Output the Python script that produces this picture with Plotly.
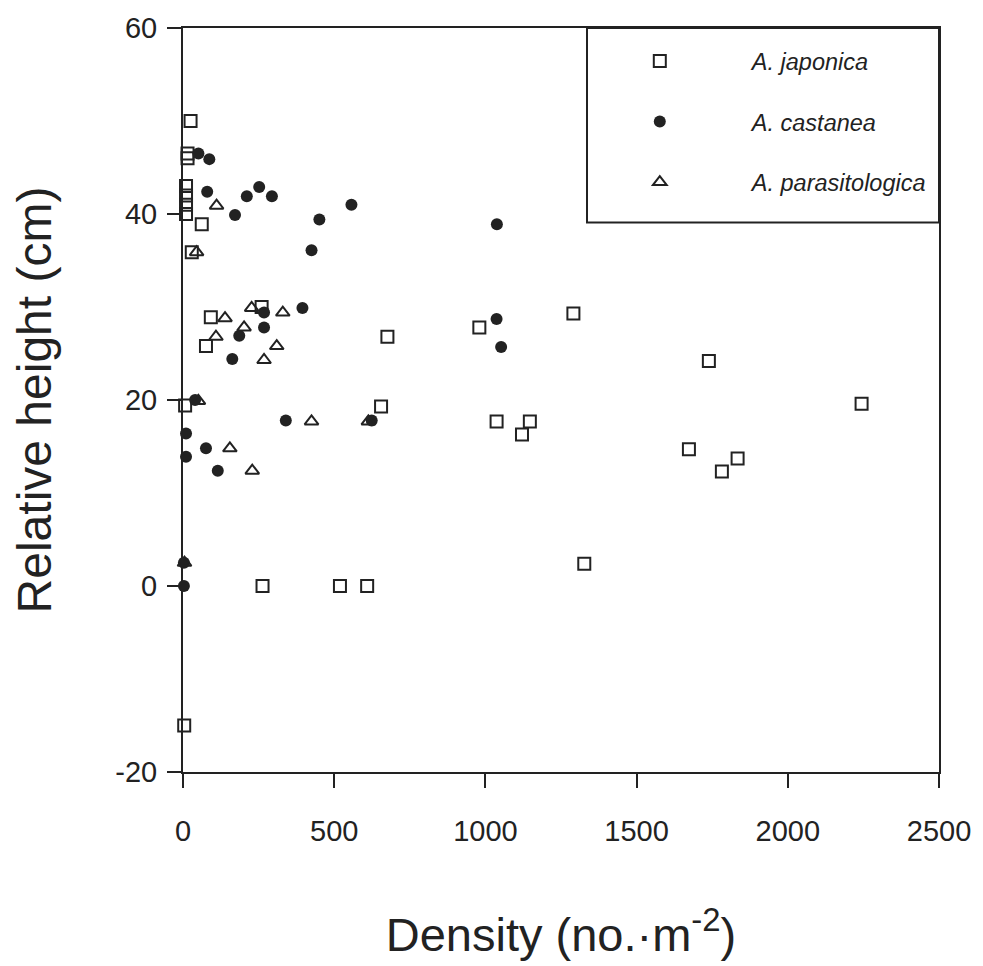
import plotly.graph_objects as go

# A. japonica (open squares)
jap_x = [25, 15, 15, 10, 10, 10, 10, 62, 29, 92, 76, 260, 676, 980, 1291, 1739,
         1037, 1147, 1121, 1673, 1834, 1782, 1327, 655, 7, 263, 519, 609, 4, 2244]
jap_y = [50, 46.5, 46, 43, 42, 41, 40, 38.9, 35.9, 28.9, 25.8, 30, 26.8, 27.8, 29.3, 24.2,
         17.7, 17.7, 16.3, 14.7, 13.7, 12.3, 2.4, 19.3, 19.4, 0, 0, 0, -15, 19.6]

# A. castanea (filled circles)
cas_x = [51, 87, 80, 211, 252, 294, 172, 451, 557, 425, 395, 268, 268, 186, 163,
         340, 624, 10, 76, 10, 115, 40, 1037, 1052, 1038, 3, 3]
cas_y = [46.5, 45.9, 42.4, 41.9, 42.9, 41.9, 39.9, 39.4, 41, 36.1, 29.9, 29.4, 27.8, 26.9, 24.4,
         17.8, 17.8, 16.4, 14.8, 13.9, 12.4, 20, 28.7, 25.7, 38.9, 0, 2.5]

# A. parasitologica (open triangles)
par_x = [111, 45, 139, 227, 330, 202, 109, 310, 268, 51, 425, 613, 155, 229, 5]
par_y = [40.9, 35.9, 28.8, 29.9, 29.4, 27.8, 26.8, 25.8, 24.3, 19.9, 17.7, 17.7, 14.8, 12.4, 2.5]

x_ticks = [0, 500, 1000, 1500, 2000, 2500]
y_ticks = [-20, 0, 20, 40, 60]

INK = "#222222"
FONT = "Liberation Sans, Arial, Helvetica, sans-serif"

fig = go.Figure()
fig.add_trace(go.Scatter(
    x=jap_x, y=jap_y, mode="markers", name="<i>A. japonica</i>", legendgroup="a",
    marker=dict(symbol="square-open", size=12, color=INK, line=dict(width=2, color=INK)),
    cliponaxis=False))
fig.add_trace(go.Scatter(
    x=cas_x, y=cas_y, mode="markers", name="<i>A. castanea</i>", legendgroup="b",
    marker=dict(symbol="circle", size=12, color=INK, line=dict(width=0)),
    cliponaxis=False))
fig.add_trace(go.Scatter(
    x=par_x, y=par_y, mode="markers", name="<i>A. parasitologica</i>", legendgroup="c",
    marker=dict(symbol="triangle-up-open", size=12, color=INK, line=dict(width=2, color=INK)),
    cliponaxis=False))

axis_common = dict(
    showline=True, linecolor=INK, linewidth=2, mirror=True,
    ticks="outside", ticklen=14, tickwidth=2, tickcolor=INK,
    showgrid=False, zeroline=False,
    tickfont=dict(size=29, color=INK, family=FONT),
)

fig.update_xaxes(range=[0, 2500], tickvals=x_ticks, ticktext=[str(v) for v in x_ticks],
                 ticklabelstandoff=18,
                 title=dict(text="Density (no.·m<sup>-2</sup>)", font=dict(size=47, color=INK, family=FONT),
                            standoff=72),
                 **axis_common)
fig.update_yaxes(range=[-20, 60], tickvals=y_ticks, ticktext=[str(v) for v in y_ticks],
                 ticklabelstandoff=4,
                 title=dict(text="Relative height (cm)", font=dict(size=48, color=INK, family=FONT),
                            standoff=48),
                 **axis_common)

fig.add_shape(type="rect", xref="paper", yref="paper", x0=0.5344, x1=1, y0=0.7387, y1=1,
              line=dict(color=INK, width=2), fillcolor="rgba(0,0,0,0)")

fig.update_layout(
    width=983, height=966,
    margin=dict(l=183, r=44, t=18, b=194),
    paper_bgcolor="white", plot_bgcolor="white",
    font=dict(family=FONT, color=INK),
    showlegend=True,
    legend=dict(x=0.509, y=0.985, xanchor="left", yanchor="top",
                bgcolor="rgba(0,0,0,0)", borderwidth=0,
                font=dict(size=23.5, color=INK, family=FONT),
                itemwidth=174, tracegroupgap=27),
)

fig.write_html("out.html")
